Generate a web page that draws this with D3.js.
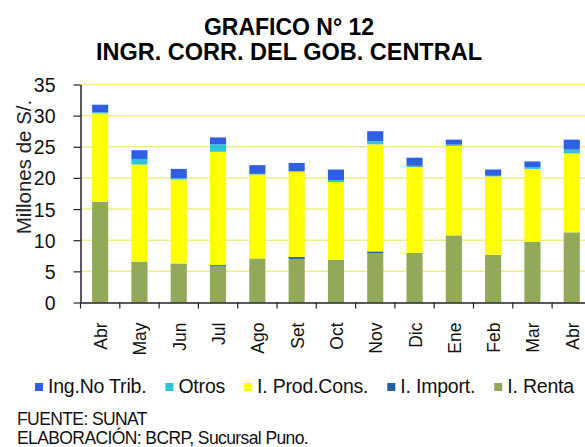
<!DOCTYPE html>
<html>
<head>
<meta charset="utf-8">
<script src="https://cdn.jsdelivr.net/npm/d3@7"></script>
<style>
  body { margin: 0; background: #fff; }
  svg { display: block; font-family: "Liberation Sans", Arial, sans-serif; }
</style>
</head>
<body>
<svg id="chart" width="585" height="447"></svg>
<script>
// months (Abr 2007 .. Abr 2008)
var meses = ["Abr", "May", "Jun", "Jul", "Ago", "Set", "Oct", "Nov", "Dic", "Ene", "Feb", "Mar", "Abr"];

// millones de S/.
var iRenta    = [16.1, 6.5, 6.2, 5.8, 7.0, 7.0, 6.8, 7.9, 7.9, 10.7, 7.6, 9.7, 11.2];
var iImport   = [0.05, 0.05, 0.05, 0.2, 0.05, 0.3, 0.05, 0.3, 0.05, 0.05, 0.05, 0.05, 0.05];
var iProdCons = [14.2, 15.6, 13.5, 18.2, 13.5, 13.7, 12.5, 17.2, 13.8, 14.4, 12.6, 11.7, 12.7];
var otros     = [0.2, 0.9, 0.2, 1.2, 0.1, 0.1, 0.3, 0.5, 0.2, 0.2, 0.1, 0.3, 0.6];
var ingNoTrib = [1.2, 1.4, 1.5, 1.1, 1.4, 1.3, 1.7, 1.6, 1.3, 0.8, 1.0, 0.9, 1.6];

var yTicks = [0, 5, 10, 15, 20, 25, 30, 35];

// stacking order bottom -> top
var series = [
  { name: "I. Renta",       vals: iRenta,    color: "#91a958" },
  { name: "I. Import.",     vals: iImport,   color: "#1d62a6" },
  { name: "I. Prod.Cons.",  vals: iProdCons, color: "#ffff00" },
  { name: "Otros",          vals: otros,     color: "#2fc3d6" },
  { name: "Ing.No Trib.",   vals: ingNoTrib, color: "#2f5fe3" }
];
var legendOrder = ["Ing.No Trib.", "Otros", "I. Prod.Cons.", "I. Import.", "I. Renta"];

var svg = d3.select("#chart");

var plotLeft = 80.5, plotRight = 591.4, plotTop = 84.5, plotBottom = 302.5;

var x = d3.scaleBand()
  .domain(d3.range(meses.length))
  .range([plotLeft, plotRight])
  .paddingInner(0.59)
  .paddingOuter(0.295);

var y = d3.scaleLinear().domain([0, 35]).range([plotBottom, plotTop]);

// table for d3.stack
var rows = meses.map(function(m, i) {
  var r = { i: i };
  series.forEach(function(s) { r[s.name] = s.vals[i]; });
  return r;
});
var stacked = d3.stack().keys(series.map(function(s) { return s.name; }))(rows);

// title
svg.append("text")
  .attr("x", 289).attr("y", 35)
  .attr("text-anchor", "middle")
  .attr("font-size", 23).attr("font-weight", "bold")
  .text("GRAFICO N° 12");
svg.append("text")
  .attr("x", 289).attr("y", 60)
  .attr("text-anchor", "middle")
  .attr("font-size", 23.5).attr("font-weight", "bold")
  .text("INGR. CORR. DEL GOB. CENTRAL");

// gridlines
svg.append("g")
  .selectAll("line")
  .data(yTicks.filter(function(d) { return d > 0; }))
  .enter()
  .append("line")
  .attr("x1", plotLeft).attr("x2", 585)
  .attr("y1", function(d) { return y(d); })
  .attr("y2", function(d) { return y(d); })
  .attr("stroke", "#eeee84")
  .attr("stroke-width", 1.5);

// bars
svg.append("g")
  .selectAll("g")
  .data(stacked)
  .enter()
  .append("g")
  .attr("fill", function(d, k) { return series[k].color; })
  .selectAll("rect")
  .data(function(d) { return d; })
  .enter()
  .append("rect")
  .attr("x", function(d) { return x(d.data.i); })
  .attr("y", function(d) { return y(d[1]); })
  .attr("width", x.bandwidth())
  .attr("height", function(d) { return y(d[0]) - y(d[1]); });

// y axis
var yAxis = svg.append("g")
  .attr("transform", "translate(" + plotLeft + ",0)")
  .call(d3.axisLeft(y).tickValues(yTicks).tickSize(7).tickPadding(18).tickSizeOuter(0));
yAxis.select(".domain").attr("stroke", "#222").attr("stroke-width", 1.5);
yAxis.selectAll(".tick line").attr("stroke", "#222").attr("stroke-width", 1.2);
yAxis.selectAll(".tick text")
  .attr("font-size", 19.5)
  .attr("font-family", "Liberation Sans, Arial, sans-serif")
  .attr("fill", "#111")
  .attr("dy", "0.36em");

// x axis
var xAxis = svg.append("g")
  .attr("transform", "translate(0," + plotBottom + ")")
  .call(d3.axisBottom(x).tickSize(0).tickFormat(function(i) { return meses[i]; }));
xAxis.select(".domain").attr("stroke", "#222").attr("stroke-width", 1.5);
xAxis.selectAll(".tick text")
  .attr("font-size", 17.5)
  .attr("font-family", "Liberation Sans, Arial, sans-serif")
  .attr("fill", "#111")
  .attr("text-anchor", "end")
  .attr("transform", "rotate(-90)")
  .attr("x", -20)
  .attr("y", 7)
  .attr("dy", 0);

// x ticks at category boundaries
xAxis.append("g")
  .selectAll("line")
  .data(d3.range(meses.length + 1))
  .enter()
  .append("line")
  .attr("x1", function(i) { return plotLeft + i * x.step(); })
  .attr("x2", function(i) { return plotLeft + i * x.step(); })
  .attr("y1", 0).attr("y2", 6)
  .attr("stroke", "#222").attr("stroke-width", 1.2);

// y label
svg.append("text")
  .attr("transform", "translate(31,167) rotate(-90)")
  .attr("text-anchor", "middle")
  .attr("font-size", 20.5)
  .attr("fill", "#222")
  .text("Millones de S/.");

// legend
var legend = svg.append("g").attr("transform", "translate(0,393)");
var lx = 35;
legendOrder.forEach(function(name) {
  var s = series.find(function(d) { return d.name === name; });
  legend.append("rect")
    .attr("x", lx).attr("y", -10)
    .attr("width", 8).attr("height", 8)
    .attr("fill", s.color);
  var t = legend.append("text")
    .attr("x", lx + 13).attr("y", 0)
    .attr("font-size", 19.5)
    .attr("letter-spacing", -0.2)
    .attr("fill", "#111")
    .text(name);
  lx = lx + 13 + t.node().getComputedTextLength() + 19;
});

// source
svg.append("text")
  .attr("x", 17).attr("y", 425)
  .attr("font-size", 17.5)
  .attr("letter-spacing", -0.6)
  .attr("fill", "#111")
  .text("FUENTE: SUNAT");
svg.append("text")
  .attr("x", 17).attr("y", 443.5)
  .attr("font-size", 17.5)
  .attr("letter-spacing", -0.6)
  .attr("fill", "#111")
  .text("ELABORACIÓN: BCRP, Sucursal Puno.");
</script>
</body>
</html>
